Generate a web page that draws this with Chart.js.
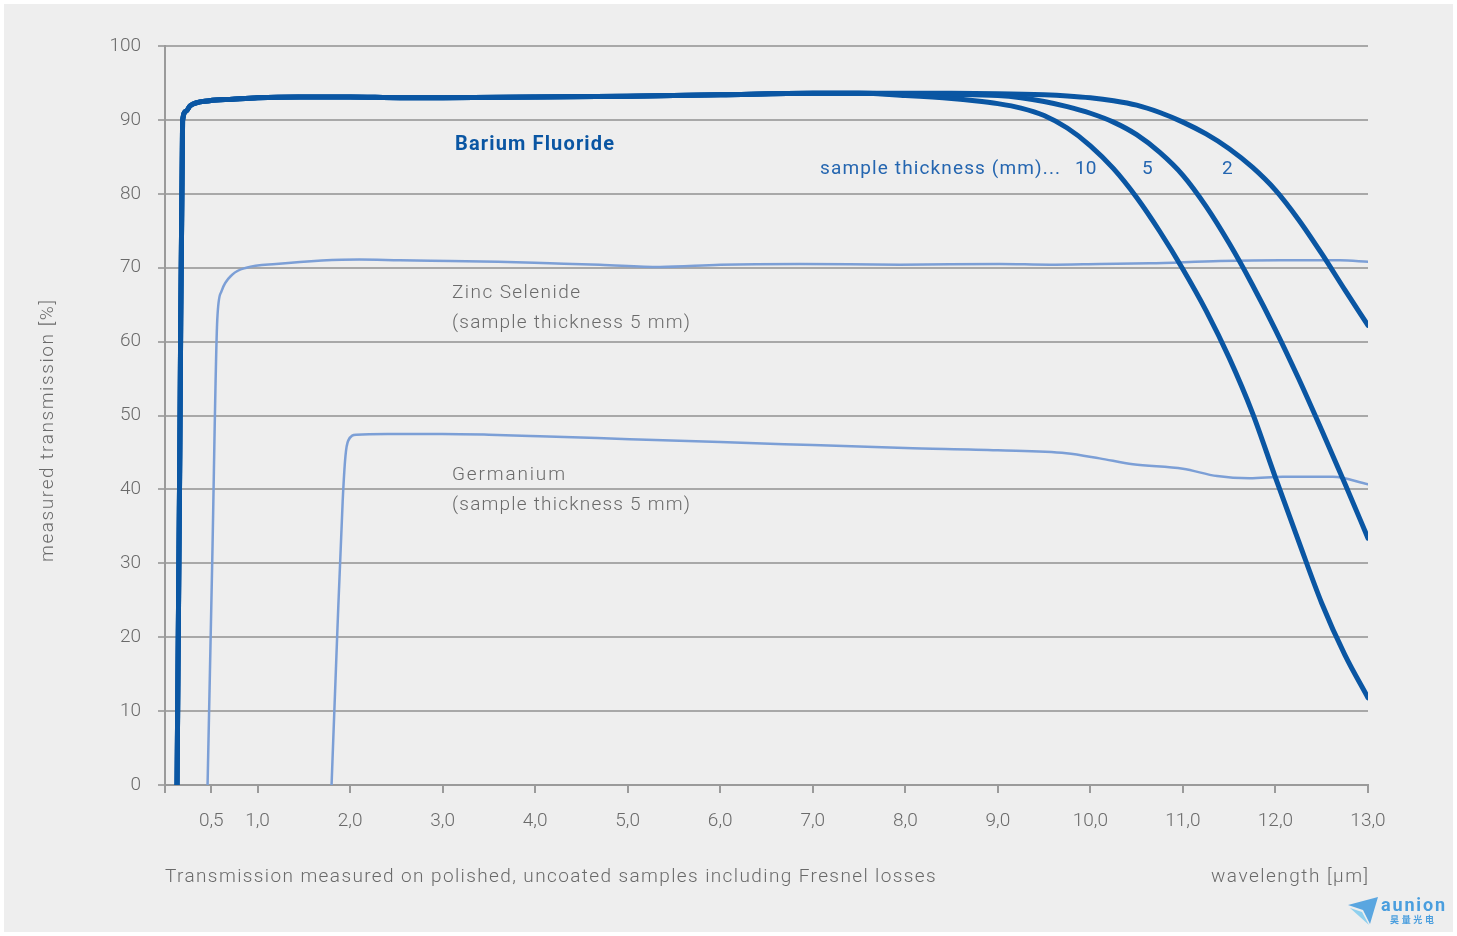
<!DOCTYPE html>
<html><head><meta charset="utf-8">
<script src="https://cdn.jsdelivr.net/npm/chart.js@4/dist/chart.umd.min.js"></script>
<style>html,body{margin:0;padding:0;background:#fff;}canvas{display:block;}</style>
</head><body>
<canvas id="c" width="1457" height="936"></canvas>
<script>
// ---- data (wavelength in µm, transmission in %) ----
const xTickValues = [0, 0.5, 1, 2, 3, 4, 5, 6, 7, 8, 9, 10, 11, 12, 13];
const yTickStep = 10;

// Barium fluoride: shared part (all thicknesses)
const baf2CommonX = [0.13, 0.16, 0.19, 0.23, 0.27, 0.48, 0.73, 1.0, 1.45, 2.0, 2.54, 3.0, 4.0, 5.0, 6.0, 7.0, 7.5];
const baf2CommonY = [0, 45, 89.9, 91.2, 91.9, 92.6, 92.8, 93.0, 93.1, 93.1, 93.0, 93.0, 93.1, 93.2, 93.4, 93.6, 93.6];

// Barium fluoride: long-wave cut-off per thickness
const baf2_10mmX = [8.0, 8.5, 8.75, 9.0, 9.25, 9.5, 9.75, 10.0, 10.25, 10.5, 10.75, 11.0, 11.25, 11.5, 11.75, 12.0, 12.25, 12.5, 12.75, 13.0];
const baf2_10mmY = [93.3, 92.9, 92.6, 92.2, 91.6, 90.6, 88.9, 86.5, 83.4, 79.5, 74.9, 69.8, 64.2, 57.8, 50.4, 41.6, 33.0, 24.6, 17.6, 11.8];

const baf2_5mmX = [8.0, 8.5, 9.0, 9.25, 9.5, 9.75, 10.0, 10.25, 10.5, 10.75, 11.0, 11.25, 11.5, 11.75, 12.0, 12.25, 12.5, 12.75, 13.0];
const baf2_5mmY = [93.5, 93.45, 93.3, 93.0, 92.5, 91.8, 90.9, 89.7, 88.0, 85.6, 82.5, 78.3, 73.3, 67.7, 61.6, 55.0, 48.0, 40.8, 33.4];

const baf2_2mmX = [8.0, 8.5, 9.0, 9.5, 9.75, 10.0, 10.25, 10.5, 10.75, 11.0, 11.25, 11.5, 11.75, 12.0, 12.25, 12.5, 12.75, 13.0];
const baf2_2mmY = [93.6, 93.6, 93.55, 93.4, 93.25, 93.0, 92.6, 92.0, 91.0, 89.7, 88.1, 86.1, 83.6, 80.5, 76.5, 71.9, 67.0, 62.2];

const znseX = [0.46, 0.51, 0.565, 0.61, 0.73, 0.88, 1.2, 2.1, 2.54, 3.08, 3.6, 4.16, 4.7, 5.35, 6.0, 6.86, 7.94, 9.02, 9.56, 10.1, 10.64, 11.4, 12.05, 12.7, 13.0];
const znseY = [0, 30, 63, 66.8, 69.1, 70.0, 70.5, 71.1, 71.0, 70.9, 70.8, 70.6, 70.4, 70.1, 70.4, 70.5, 70.4, 70.5, 70.4, 70.5, 70.6, 70.9, 71.0, 71.0, 70.8];

const geX = [1.80, 1.86, 1.92, 1.95, 1.98, 2.07, 2.4, 3.0, 3.5, 4.05, 5.02, 6.0, 7.0, 8.0, 9.0, 9.74, 10.1, 10.46, 11.0, 11.37, 11.72, 12.08, 12.62, 13.0];
const geY = [0, 20, 38.4, 44.5, 46.6, 47.4, 47.5, 47.5, 47.4, 47.2, 46.8, 46.4, 46.0, 45.6, 45.3, 44.9, 44.2, 43.4, 42.8, 41.8, 41.5, 41.7, 41.7, 40.7];

// ---- helpers ----
function pts(xs, ys) { return xs.map((x, i) => ({ x: x, y: ys[i] })); }
function joinPts(ax, ay, bx, by) { return pts(ax.concat(bx), ay.concat(by)); }

const DARK = '#0a56a3';
const LIGHT = '#7c9fd6';
const GRAY = '#6a6a6a';
const FONT = 'Roboto, "Liberation Sans", sans-serif';

function lineDs(label, data, color, width) {
  return { label, data, borderColor: color, borderWidth: width, pointRadius: 0,
    cubicInterpolationMode: 'monotone', fill: false, borderCapStyle: 'round', borderJoinStyle: 'round' };
}

const bgPlugin = {
  id: 'bg',
  beforeDraw(chart) {
    const ctx = chart.ctx;
    ctx.save();
    ctx.fillStyle = '#ffffff';
    ctx.fillRect(0, 0, chart.width, chart.height);
    ctx.fillStyle = '#eeeeee';
    ctx.fillRect(4, 4, chart.width - 8, chart.height - 8);
    ctx.restore();
  }
};

function fitText(ctx, text, x, y, width, align) {
  ctx.letterSpacing = '0px';
  const w = ctx.measureText(text).width;
  const n = text.length;
  const ls = n > 1 ? (width - w) / (n - 1) : 0;
  ctx.letterSpacing = ls.toFixed(2) + 'px';
  let sx = x;
  if (align === 'right') sx = x - width;
  ctx.textAlign = 'left';
  ctx.fillText(text, sx, y);
  ctx.letterSpacing = '0px';
}

const textPlugin = {
  id: 'texts',
  afterDraw(chart) {
    const ctx = chart.ctx;
    ctx.save();
    ctx.textBaseline = 'middle';
    ctx.fillStyle = DARK;
    ctx.font = 'bold 20px ' + FONT;
    fitText(ctx, 'Barium Fluoride', 455, 145, 159);
    ctx.fillStyle = '#2566b0';
    ctx.font = '19px ' + FONT;
    fitText(ctx, 'sample thickness (mm)...', 820, 169, 240);
    ctx.textAlign = 'left';
    ctx.fillText('10', 1075, 169);
    ctx.fillText('5', 1142, 169);
    ctx.fillText('2', 1222, 169);
    ctx.fillStyle = GRAY;
    ctx.font = '300 19px ' + FONT;
    fitText(ctx, 'Zinc Selenide', 452, 293, 128);
    fitText(ctx, '(sample thickness 5 mm)', 452, 323, 238);
    fitText(ctx, 'Germanium', 452, 475, 113);
    fitText(ctx, '(sample thickness 5 mm)', 452, 505, 238);
    fitText(ctx, 'Transmission measured on polished, uncoated samples including Fresnel losses', 165, 877, 771);
    fitText(ctx, 'wavelength [\u00b5m]', 1368, 877, 157, 'right');
    ctx.save();
    ctx.translate(48, 431);
    ctx.rotate(-Math.PI / 2);
    fitText(ctx, 'measured transmission [%]', -131, 0, 262);
    ctx.restore();
    // logo
    ctx.fillStyle = '#5aa6e0';
    ctx.beginPath();
    ctx.moveTo(1348, 905); ctx.lineTo(1378, 897); ctx.lineTo(1370, 924); ctx.lineTo(1363, 910);
    ctx.closePath(); ctx.fill();
    ctx.fillStyle = '#8fd0ee';
    ctx.beginPath();
    ctx.moveTo(1350, 908); ctx.lineTo(1362, 912); ctx.lineTo(1369, 925);
    ctx.closePath(); ctx.fill();
    ctx.fillStyle = '#4a9ede';
    ctx.font = 'bold 18px ' + FONT;
    fitText(ctx, 'aunion', 1381, 906, 64);
    ctx.font = 'bold 9px "Noto Sans CJK SC", sans-serif';
    fitText(ctx, '昊量光电', 1390, 920, 44);
    ctx.restore();
  }
};

new Chart(document.getElementById('c'), {
  type: 'line',
  data: {
    datasets: [
      lineDs('BaF2 10 mm', joinPts(baf2CommonX, baf2CommonY, baf2_10mmX, baf2_10mmY), DARK, 5),
      lineDs('BaF2 5 mm', joinPts(baf2CommonX, baf2CommonY, baf2_5mmX, baf2_5mmY), DARK, 5),
      lineDs('BaF2 2 mm', joinPts(baf2CommonX, baf2CommonY, baf2_2mmX, baf2_2mmY), DARK, 5),
      lineDs('ZnSe 5 mm', pts(znseX, znseY), LIGHT, 2.5),
      lineDs('Ge 5 mm', pts(geX, geY), LIGHT, 2.5)
    ]
  },
  options: {
    responsive: false,
    animation: false,
    devicePixelRatio: 1,
    layout: { padding: { left: 0, right: 89, top: 46, bottom: 0 } },
    plugins: { legend: { display: false }, tooltip: { enabled: false } },
    scales: {
      x: {
        type: 'linear', min: 0, max: 13,
        afterBuildTicks(axis) { axis.ticks = xTickValues.map(v => ({ value: v })); },
        afterFit(s) { s.height = 151; },
        ticks: {
          autoSkip: false, maxRotation: 0, padding: 17,
          color: GRAY, font: { family: FONT, size: 19, weight: '300' },
          callback: v => v === 0 ? '' : v.toFixed(1).replace('.', ',')
        },
        grid: { drawOnChartArea: false, drawTicks: true, tickLength: 8, color: '#9a9a9a', lineWidth: 2 },
        border: { display: true, color: '#9a9a9a', width: 2 }
      },
      y: {
        min: 0, max: 100,
        afterFit(s) { s.width = 165; },
        ticks: {
          stepSize: yTickStep, padding: 17,
          color: GRAY, font: { family: FONT, size: 19, weight: '300' }
        },
        grid: { color: '#a8a8a8', lineWidth: 2, tickLength: 7 },
        border: { display: true, color: '#9a9a9a', width: 2 }
      }
    }
  },
  plugins: [bgPlugin, textPlugin]
});
</script>
</body></html>
